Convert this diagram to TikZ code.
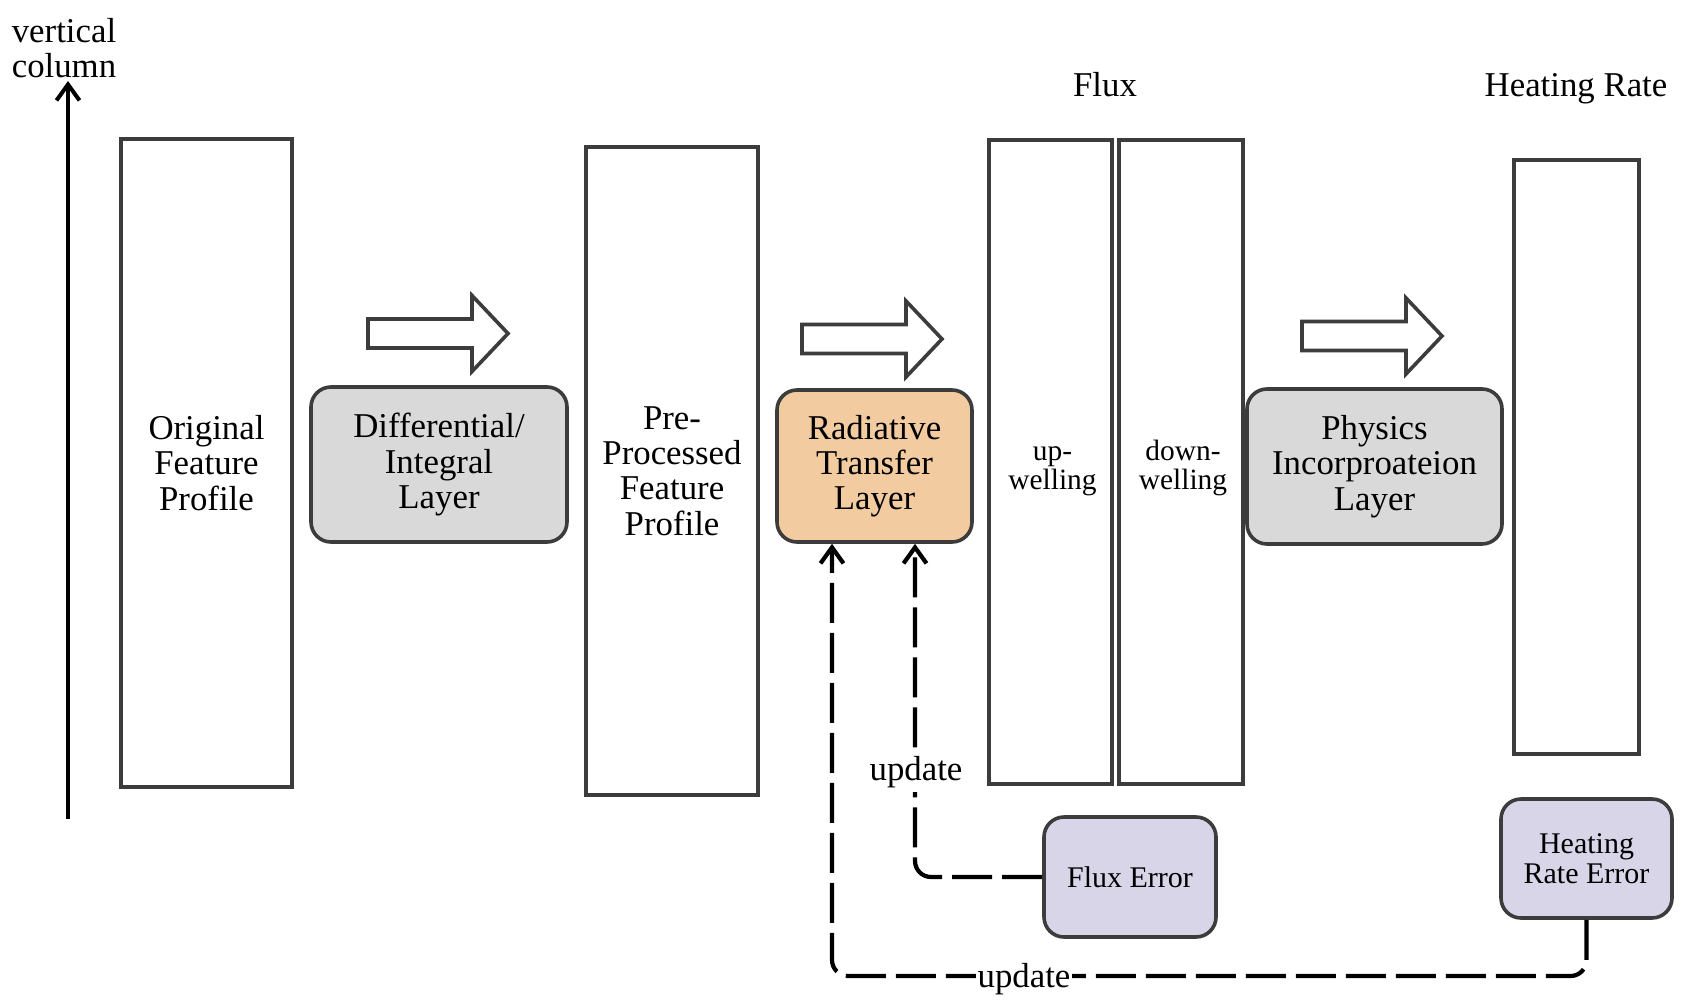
\documentclass[tikz,border=0pt]{standalone}
\usepackage{fontspec}
\setmainfont{Liberation Serif}
\usetikzlibrary{arrows.meta,calc}

\definecolor{edgegray}{HTML}{3C3C3C}
\definecolor{layergray}{HTML}{D9D9D9}
\definecolor{rtpeach}{HTML}{F2CBA0}
\definecolor{errlilac}{HTML}{D9D5E8}

\begin{document}
\begin{tikzpicture}[x=0.5pt, y=-0.5pt,
    every node/.style={font=\fontsize{17.4}{17.6}\selectfont},
    column/.style={draw=edgegray, line width=1.8pt, fill=white, align=center, inner sep=0pt},
    layer/.style={draw=edgegray, line width=1.8pt, rounded corners=10pt, align=center, inner sep=0pt},
    errbox/.style={layer, fill=errlilac, font=\fontsize{15}{15}\selectfont},
    welltext/.style={align=center, inner sep=0pt, font=\fontsize{14.7}{14.6}\selectfont},
    upd/.style={dash pattern=on 20pt off 5pt, line width=2.1pt, rounded corners=8pt,
                -{Straight Barb[length=8pt,width=11.5pt]}},
    harrow/.pic={\draw[draw=edgegray, line width=1.8pt, fill=white, line join=miter]
        (0,-14.5) -- (104,-14.5) -- (104,-38) -- (140,0) -- (104,38) -- (104,14.5) -- (0,14.5) -- cycle;}
  ]
    \useasboundingbox (0,0) rectangle (1690,1006);

    % Vertical column axis
    \coordinate (vbot) at (68,819);
    \coordinate (vtop) at (68,81);
    \draw[line width=2pt, -{Straight Barb[length=8pt,width=11.5pt]}] (vbot) -- (vtop);
    \node[align=center, anchor=south, inner sep=0pt] (vcol) at (64,78) {vertical\\column};

    % Feature profiles
    \node[column, minimum width=85.5pt, minimum height=324pt] (orig) at (206.5,463) {Original\\Feature\\Profile};
    \node[column, minimum width=86pt, minimum height=324pt] (prep) at (672,471) {Pre-\\Processed\\Feature\\Profile};

    % Flux columns
    \node[anchor=base] (fluxlbl) at (1105,97) {Flux};
    \node[column, minimum width=61.5pt, minimum height=322pt] (upw) at (1050.5,462) {};
    \node[column, minimum width=62pt, minimum height=322pt] (dnw) at (1181,462) {};
    \node[welltext] (upwtxt) at ($(upw)+(2,9)$) {up-\\welling};
    \node[welltext] (dnwtxt) at ($(dnw)+(2,6)$) {down-\\welling};

    % Heating rate column
    \node[anchor=base] (hrlbl) at (1576,97) {Heating Rate};
    \node[column, minimum width=62.5pt, minimum height=297pt] (hrcol) at (1576.5,457) {};

    % Layers
    \node[layer, fill=layergray, minimum width=128pt, minimum height=77.5pt] (diff) at (439,464.5) {Differential/\\Integral\\Layer};
    \node[layer, fill=rtpeach, minimum width=97.5pt, minimum height=76pt] (rad) at (874.5,466) {Radiative\\Transfer\\Layer};
    \node[layer, fill=layergray, minimum width=127.5pt, minimum height=77.5pt] (phys) at (1374.5,466.5) {Physics\\Incorproateion\\Layer};

    % Hollow arrows
    \pic at (368,333.5) {harrow};
    \pic at (802,339) {harrow};
    \pic at (1302,336) {harrow};

    % Errors
    \node[errbox, minimum width=86pt, minimum height=60pt] (fluxerr) at (1130,877) {Flux Error};
    \node[errbox, minimum width=85.5pt, minimum height=59.5pt] (hrerr) at (1586.5,858.5) {Heating\\Rate Error};

    % Update loops
    \coordinate (loop) at (832,976);
    \draw[upd] (fluxerr.west) -| ($(rad.south)+(40.5,0)$);
    \draw[upd] (hrerr.south) |- (loop) -- (loop |- rad.south);
    \node[fill=white, inner sep=2pt] (upd1) at (916,772) {update};
    \node[fill=white, inner sep=1pt] (upd2) at (1024,979) {update};
  \end{tikzpicture}
\end{document}
